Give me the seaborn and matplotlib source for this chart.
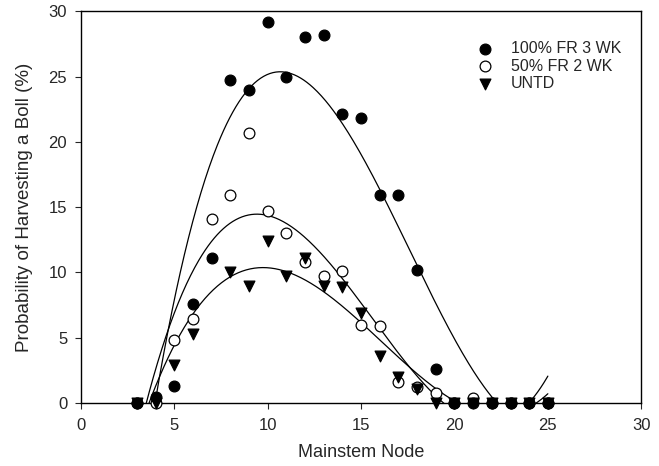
import numpy as np
import pandas as pd
import matplotlib
matplotlib.use("Agg")
import matplotlib.pyplot as plt
import seaborn as sns

# values
nodes = list(range(3, 26))
fr100 = [0, 0.5, 1.3, 7.6, 11.1, 24.7, 24.0, 29.2, 25.0, 28.0, 28.2, 22.1,
         21.8, 15.9, 15.9, 10.2, 2.6, 0, 0, 0, 0, 0, 0]
fr50 = [0, 0, 4.8, 6.4, 14.1, 15.9, 20.7, 14.7, 13.0, 10.8, 9.7, 10.1,
        6.0, 5.9, 1.6, 1.2, 0.8, 0, 0.4, 0, 0, 0, 0]
# no UNTD point is visible at node 7
untd_nodes = [3, 4, 5, 6, 8, 9, 10, 11, 12, 13, 14, 15, 16, 17, 18, 19,
              20, 21, 22, 23, 24, 25]
untd = [0, 0, 2.9, 5.3, 10.0, 9.0, 12.4, 9.7, 11.1, 9.0, 8.9, 6.9,
        3.6, 2.0, 1.1, 0, 0, 0, 0, 0, 0, 0]
labels = ["100% FR 3 WK", "50% FR 2 WK", "UNTD"]

sns.set_style("ticks")
plt.rcParams['font.family'] = ['Liberation Sans', 'DejaVu Sans']

fig = plt.figure(figsize=(6.59, 4.66), dpi=100)
ax = fig.add_axes([0.123, 0.135, 0.85, 0.841])

# x, values, marker, face colour, stacking order
series = [(nodes, fr100, "o", "black", 5),
          (nodes, fr50, "o", "white", 3),
          (untd_nodes, untd, "v", "black", 4)]

# cubic fits, drawn over the node range
xs = np.linspace(3, 25, 400)
for x, y, m, fc, z in series:
    coef = np.polyfit(x, y, 3)
    sns.lineplot(x=xs, y=np.polyval(coef, xs), color="black", lw=0.9, ax=ax)

for (x, y, m, fc, z), lab in zip(series, labels):
    df = pd.DataFrame({"node": x, "p": y})
    sns.scatterplot(data=df, x="node", y="p", marker=m, s=60, color=fc,
                    edgecolor="black", linewidth=0.9, ax=ax, label=lab,
                    zorder=z, clip_on=False)

ax.set_xlim(0, 30)
ax.set_ylim(0, 30)
ax.set_xticks(range(0, 31, 5))
ax.set_yticks(range(0, 31, 5))
ax.set_xlabel("Mainstem Node", fontsize=13, labelpad=8)
ax.set_ylabel("Probability of Harvesting a Boll (%)", fontsize=13.5,
              labelpad=11)
ax.tick_params(labelsize=12, length=4, direction="out")
ax.tick_params(axis="x", pad=7)
ax.tick_params(axis="y", pad=6)
for s in ax.spines.values():
    s.set_linewidth(1)
    s.set_color("black")
ax.legend(loc="upper right", frameon=False, fontsize=11.5,
          bbox_to_anchor=(0.99, 0.96), handletextpad=0.6, labelspacing=0.15)

fig.savefig("out.png", dpi=100)
